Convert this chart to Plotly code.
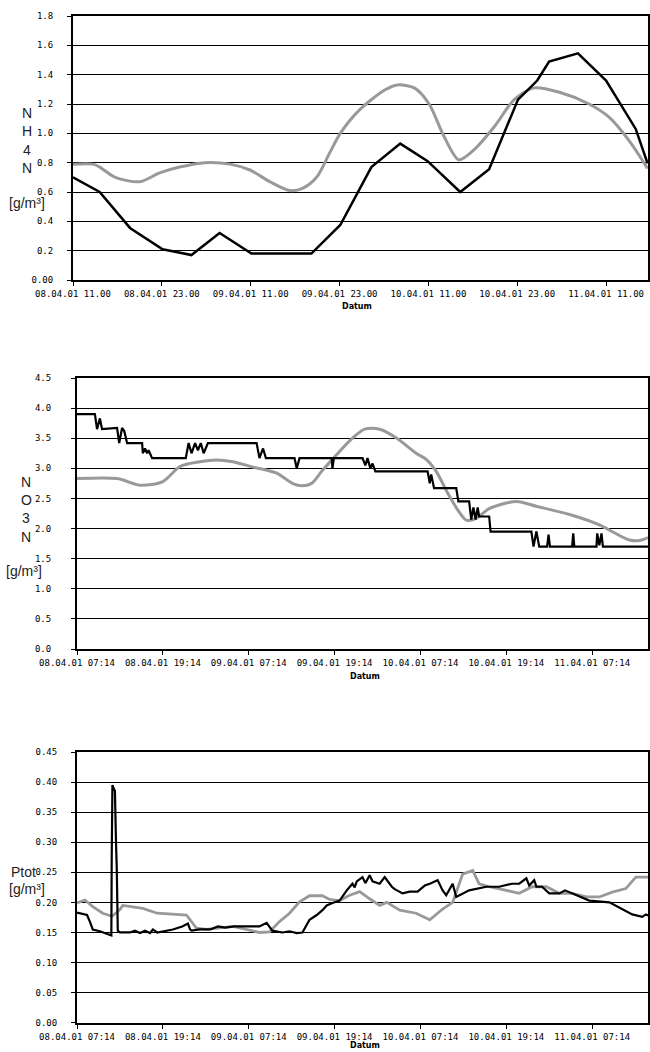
import pandas as pd
import plotly.graph_objects as go

# ---------------- data ----------------
# NH4-N chart (hours after 08.04.01 11:00)
nh4_black_h = [0, 3.6, 7.7, 12.1, 16.0, 19.8, 24.1, 32.2, 36.1, 40.3, 44.2, 47.9, 52.3, 56.2, 60.1, 62.7, 64.3, 68.2, 72.0, 76.0, 77.6]
nh4_black_v = [0.70, 0.60, 0.355, 0.21, 0.17, 0.32, 0.18, 0.18, 0.375, 0.77, 0.93, 0.81, 0.60, 0.755, 1.23, 1.36, 1.49, 1.545, 1.36, 1.03, 0.795]
nh4_gray_h = [0, 2.7, 3.6, 5.7, 9.0, 11.7, 14.4, 17.8, 21.2, 23.9, 26.6, 29.3, 31.0, 32.9, 34.7, 36.1, 38.7, 42.1, 43.8, 46.1, 48.1, 50.1, 52.1, 54.2, 56.9, 59.6, 62.3, 65.7, 69.7, 72.4, 75.1, 77.6]
nh4_gray_v = [0.79, 0.79, 0.77, 0.70, 0.67, 0.73, 0.77, 0.80, 0.79, 0.75, 0.67, 0.61, 0.625, 0.70, 0.87, 1.0, 1.16, 1.295, 1.33, 1.31, 1.2, 0.98, 0.82, 0.89, 1.045, 1.23, 1.31, 1.28, 1.2, 1.11, 0.95, 0.76]

# NO3-N chart (hours after 08.04.01 07:14)
no3_black_h = [0, 2.5, 2.8, 3.2, 3.5, 5.6, 5.9, 6.3, 6.6, 7.0, 9.1, 9.2, 9.5, 9.8, 10.0, 10.5, 15.2, 15.6, 16.0, 16.5, 16.9, 17.3, 17.7, 18.3,
               25.1, 25.5, 26.0, 26.4, 30.4, 30.7, 31.1, 35.6, 35.7, 35.9, 39.9, 40.3, 40.6, 41.0, 41.3, 41.7, 49.0, 49.3, 49.5, 49.9,
               53.0, 53.3, 54.8, 55.1, 55.4, 55.7, 56.0, 56.2, 57.6, 57.8, 63.5, 63.8, 64.2, 64.6, 65.7, 65.9, 66.1, 69.2, 69.35, 69.5,
               72.6, 72.7, 73.0, 73.3, 73.5, 79.8]
no3_black_v = [3.90, 3.90, 3.65, 3.83, 3.65, 3.67, 3.42, 3.67, 3.62, 3.42, 3.42, 3.25, 3.33, 3.25, 3.30, 3.17, 3.17, 3.42, 3.25, 3.42, 3.30, 3.42, 3.25, 3.42,
               3.42, 3.17, 3.33, 3.17, 3.17, 3.00, 3.17, 3.17, 3.00, 3.17, 3.17, 3.05, 3.17, 3.00, 3.08, 2.95, 2.95, 2.75, 2.90, 2.67,
               2.67, 2.45, 2.45, 2.15, 2.35, 2.15, 2.35, 2.20, 2.20, 1.95, 1.95, 1.70, 1.95, 1.70, 1.70, 1.90, 1.70, 1.70, 1.92, 1.70,
               1.70, 1.92, 1.72, 1.92, 1.70, 1.70]
no3_gray_h = [0, 5.6, 8.8, 12.0, 14.4, 17.2, 19.5, 21.8, 24.6, 27.9, 30.1, 31.4, 32.8, 34.2, 36.0, 38.5, 40.2, 42.3, 44.7, 47.4, 48.8, 50.2, 51.8,
              53.2, 54.4, 55.8, 57.6, 61.4, 64.2, 69.2, 73.0, 75.1, 77.2, 78.6, 79.8]
no3_gray_v = [2.83, 2.83, 2.72, 2.78, 3.03, 3.11, 3.14, 3.11, 3.02, 2.92, 2.75, 2.71, 2.75, 2.95, 3.19, 3.50, 3.65, 3.65, 3.50, 3.25, 3.15, 2.95, 2.59,
              2.31, 2.14, 2.17, 2.33, 2.45, 2.37, 2.22, 2.06, 1.93, 1.81, 1.80, 1.85]

# Ptot chart (hours after 08.04.01 07:14)
ptot_black_h = [0, 1.4, 1.8, 2.2, 3.2, 4.3, 4.8, 4.85, 4.95, 5.1, 5.3, 5.45, 5.55, 5.7, 6.0, 7.4, 8.1, 8.8, 9.5, 10.2, 10.6, 11.2, 12.3, 13.4,
                14.7, 15.5, 15.8, 16.0, 17.2, 18.6, 19.7, 20.7, 22.0, 24.1, 25.5, 26.5, 26.9, 27.3, 28.7, 29.7, 30.7, 31.5, 32.5, 33.5,
                34.3, 34.9, 35.7, 36.7, 37.7, 38.5, 38.8, 39.1, 39.9, 40.3, 40.9, 41.3, 42.3, 43.0, 44.0, 44.4, 45.5, 46.5, 47.6, 48.6,
                49.3, 50.4, 51.1, 51.6, 52.5, 53.0, 54.8, 57.2, 59.0, 60.8, 61.8, 62.8, 63.2, 63.9, 64.2, 65.0, 66.0, 67.4, 68.2, 69.2,
                70.6, 71.6, 74.4, 76.2, 77.6, 79.0, 79.5, 79.8]
ptot_black_v = [0.183, 0.179, 0.168, 0.155, 0.152, 0.147, 0.145, 0.27, 0.395, 0.39, 0.385, 0.30, 0.26, 0.153, 0.15, 0.15, 0.153, 0.149, 0.153, 0.149, 0.155, 0.15, 0.152, 0.155,
                0.16, 0.165, 0.155, 0.153, 0.155, 0.155, 0.16, 0.158, 0.16, 0.16, 0.16, 0.166, 0.16, 0.153, 0.15, 0.152, 0.149, 0.15, 0.171, 0.179,
                0.187, 0.195, 0.199, 0.203, 0.22, 0.231, 0.225, 0.235, 0.242, 0.232, 0.245, 0.235, 0.231, 0.242, 0.226, 0.222, 0.215, 0.218, 0.218, 0.228,
                0.231, 0.237, 0.22, 0.212, 0.231, 0.209, 0.22, 0.226, 0.226, 0.231, 0.231, 0.24, 0.228, 0.237, 0.226, 0.226, 0.215, 0.215, 0.22, 0.215,
                0.209, 0.203, 0.2, 0.189, 0.18, 0.176, 0.18, 0.178]
ptot_gray_h = [0, 1.1, 2.2, 3.6, 4.9, 6.0, 6.4, 9.2, 11.2, 13.4, 15.3, 16.7, 18.1, 21.8, 23.7, 25.5, 26.9, 28.3, 29.7, 31.1, 32.5, 34.3, 35.3,
               36.7, 38.1, 39.5, 40.9, 42.3, 43.3, 45.1, 47.4, 49.3, 51.1, 52.5, 53.9, 55.3, 56.2, 57.6, 60.0, 61.8, 63.6, 65.6, 67.4,
               69.2, 71.2, 73.0, 74.8, 76.7, 78.1, 79.8]
ptot_gray_v = [0.199, 0.204, 0.193, 0.182, 0.177, 0.188, 0.195, 0.19, 0.182, 0.181, 0.179, 0.157, 0.155, 0.16, 0.155, 0.15, 0.151, 0.168, 0.182, 0.201, 0.211, 0.211, 0.205,
               0.203, 0.212, 0.218, 0.206, 0.195, 0.20, 0.187, 0.182, 0.171, 0.189, 0.20, 0.247, 0.253, 0.231, 0.226, 0.22, 0.215, 0.226, 0.226, 0.215,
               0.215, 0.209, 0.209, 0.217, 0.223, 0.242, 0.242]

nh4_start = "2001-04-08 11:00"
nh4_end_h = 77.66
no3_start = "2001-04-08 07:14"
no3_end_h = 79.8

nh4_yticks = [0, 0.2, 0.4, 0.6, 0.8, 1.0, 1.2, 1.4, 1.6, 1.8]
nh4_ytext = ["0.00", "0.2", "0.4", "0.6", "0.8", "1.0", "1.2", "1.4", "1.6", "1.8"]
no3_yticks = [0, 0.5, 1.0, 1.5, 2.0, 2.5, 3.0, 3.5, 4.0, 4.5]
no3_ytext = ["0.0", "0.5", "1.0", "1.5", "2.0", "2.5", "3.0", "3.5", "4.0", "4.5"]
ptot_yticks = [0, 0.05, 0.10, 0.15, 0.20, 0.25, 0.30, 0.35, 0.40, 0.45]
ptot_ytext = ["0.00", "0.05", "0.10", "0.15", "0.20", "0.25", "0.30", "0.35", "0.40", "0.45"]


def to_time(start, hours):
    return pd.Timestamp(start) + pd.to_timedelta(hours, unit="h")


BLACK = "#000000"
GRAY = "#999999"

fig = go.Figure()

series = [
    (nh4_start, nh4_gray_h, nh4_gray_v, GRAY, 3, "spline", "x", "y"),
    (nh4_start, nh4_black_h, nh4_black_v, BLACK, 2.5, "linear", "x", "y"),
    (no3_start, no3_gray_h, no3_gray_v, GRAY, 3, "spline", "x2", "y2"),
    (no3_start, no3_black_h, no3_black_v, BLACK, 2.2, "linear", "x2", "y2"),
    (no3_start, ptot_gray_h, ptot_gray_v, GRAY, 2.8, "linear", "x3", "y3"),
    (no3_start, ptot_black_h, ptot_black_v, BLACK, 2.2, "linear", "x3", "y3"),
]
for start, hs, vs, col, w, shape, xa, ya in series:
    line = dict(color=col, width=w, shape=shape)
    if shape == "spline":
        line["smoothing"] = 0.8
    fig.add_trace(go.Scatter(
        x=to_time(start, hs), y=vs, mode="lines", line=line,
        xaxis=xa, yaxis=ya, showlegend=False, hoverinfo="skip"))

H = 1052.0
W = 650.0
tickfont = dict(family="DejaVu Sans Mono", size=9, color="#000000")

common_x = dict(type="date", dtick=12 * 3600 * 1000, showgrid=False, showline=True,
                linecolor="black", linewidth=2, mirror=True, ticks="outside",
                ticklen=4, tickcolor="black", tickfont=tickfont, zeroline=False,
                automargin=False)
common_y = dict(showgrid=True, gridcolor="black", gridwidth=1, showline=True,
                linecolor="black", linewidth=2, mirror=True, ticks="outside",
                ticklen=4, tickcolor="black", tickfont=tickfont, zeroline=False,
                automargin=False)


def ydom(top_px, bottom_px):
    return [1 - bottom_px / H, 1 - top_px / H]


fig.update_layout(
    width=650, height=1052,
    margin=dict(l=0, r=0, t=0, b=0, autoexpand=False),
    paper_bgcolor="white", plot_bgcolor="white",
    xaxis=dict(common_x, domain=[73 / W, 648 / W], anchor="y",
               tick0=nh4_start, tickformat="%d.%m.%y %H.%M",
               range=[pd.Timestamp(nh4_start), to_time(nh4_start, nh4_end_h)]),
    yaxis=dict(common_y, domain=ydom(16, 280), anchor="x", range=[0, 1.8],
               tickvals=nh4_yticks, ticktext=nh4_ytext, ticklabelstandoff=12),
    xaxis2=dict(common_x, domain=[77 / W, 648 / W], anchor="y2",
                tick0=no3_start, tickformat="%d.%m.%y %H:%M",
                range=[pd.Timestamp(no3_start), to_time(no3_start, no3_end_h)]),
    yaxis2=dict(common_y, domain=ydom(378, 649), anchor="x2", range=[0, 4.5],
                tickvals=no3_yticks, ticktext=no3_ytext, ticklabelstandoff=18),
    xaxis3=dict(common_x, domain=[77 / W, 648 / W], anchor="y3",
                tick0=no3_start, tickformat="%d.%m.%y %H:%M",
                range=[pd.Timestamp(no3_start), to_time(no3_start, no3_end_h)]),
    yaxis3=dict(common_y, domain=ydom(752, 1022.7), anchor="x3", range=[0, 0.45],
                tickvals=ptot_yticks, ticktext=ptot_ytext, ticklabelstandoff=12),
)

title_font = dict(family="Liberation Sans", size=14, color="#222222")
datum_font = dict(family="DejaVu Sans", size=8, color="#000000")


def ann(text, xpx, ypx, font):
    fig.add_annotation(text=text, xref="paper", yref="paper", x=xpx / W, y=1 - ypx / H,
                       xanchor="center", yanchor="middle", showarrow=False, font=font)


# y-axis titles
for i, letter in enumerate(["N", "H", "4", "N"]):
    ann(letter, 27, 113 + i * 18.3, title_font)
ann("[g/m³]", 27, 203, title_font)
for i, letter in enumerate(["N", "O", "3", "N"]):
    ann(letter, 26, 482 + i * 18.2, title_font)
ann("[g/m³]", 24, 571, title_font)
ann("Ptot", 23, 872, title_font)
ann("[g/m³]", 27, 889, title_font)

# x-axis titles
ann("<b>Datum</b>", 357, 306, datum_font)
ann("<b>Datum</b>", 365, 676, datum_font)
ann("<b>Datum</b>", 365, 1045, datum_font)

fig.write_html("out.html", config={"displayModeBar": False},
               post_script="document.body.style.margin='0';document.body.style.overflow='hidden';")
